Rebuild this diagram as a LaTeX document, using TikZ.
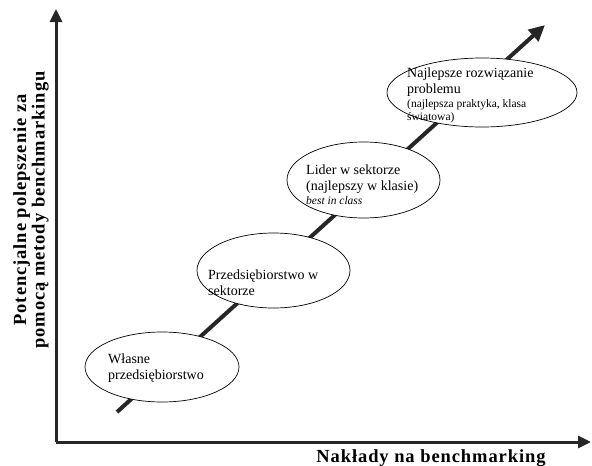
\documentclass[tikz,border=0pt]{standalone}
\usepackage{fontspec}
\setmainfont{Liberation Serif}
\newfontfamily\axisfont[LetterSpace=5]{Liberation Serif}
\usetikzlibrary{arrows.meta,shapes.geometric}
\definecolor{ink}{HTML}{262626}
\begin{document}
\begin{tikzpicture}[x=1pt,y=-1pt,
  axisline/.style={draw=ink,line width=3pt,-{Triangle[length=13pt,width=12pt]}},
  trendline/.style={draw=ink,line width=4pt,-{Triangle[length=16pt,width=15pt]}},
  stage/.style={ellipse,draw=black,line width=0.7pt,fill=white,inner sep=0pt},
  stagetext/.style={anchor=west,align=left,inner sep=0pt,
    font=\fontsize{14}{16}\selectfont},
  axislabel/.style={font=\axisfont\bfseries\fontsize{18.5}{18.5}\selectfont,inner sep=0pt,align=center}]
\useasboundingbox (0,0) rectangle (592,466);

% axes
\coordinate (origin) at (56,442);
\coordinate (ytip) at (56,9);
\coordinate (xtip) at (591,442);
\draw[axisline] (origin) -- (ytip);
\draw[axisline] (origin) -- (xtip);

% rising trend arrow behind the stages
\coordinate (tstart) at (117,412);
\coordinate (ttip) at (545,25);
\draw[trendline] (tstart) -- (ttip);

% stages
\node[stage,minimum width=154pt,minimum height=70pt] (s1) at (162,367) {};
\node[stage,minimum width=153pt,minimum height=75pt] (s2) at (273.5,270.5) {};
\node[stage,minimum width=153pt,minimum height=76pt] (s3) at (363.5,180) {};
\node[stage,minimum width=190pt,minimum height=69pt] (s4) at (482,92.5) {};

\node[stagetext] (t1) at (108,368) {Własne\\przedsiębiorstwo};
\node[stagetext] (t2) at (208,283) {Przedsiębiorstwo w\\sektorze};
\node[stagetext] (t3) at (306,185) {Lider w sektorze\\(najlepszy w klasie)\\[-2pt]
  {\fontsize{11.5}{12.5}\selectfont\itshape best in class}};
\node[stagetext] (t4) at (407,95) {Najlepsze rozwiązanie\\problemu\\[-2pt]
  {\fontsize{11.5}{12.5}\selectfont (najlepsza praktyka, klasa}\\[-3pt]
  {\fontsize{11.5}{12.5}\selectfont światowa)}};

% axis titles
\node[axislabel,rotate=90] (ylab) at (31,210) {Potencjalne polepszenie za\\pomocą metody benchmarkingu};
\node[axislabel,anchor=base] (xlab) at (431,462) {Nakłady na benchmarking};
\end{tikzpicture}
\end{document}
